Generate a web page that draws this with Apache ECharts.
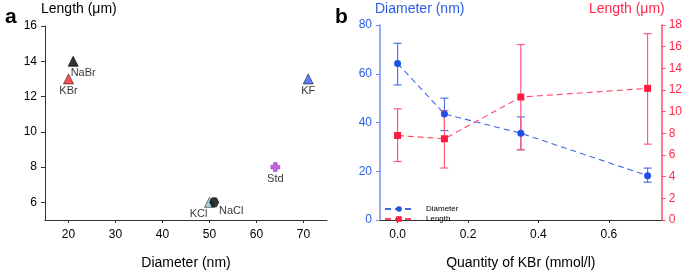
<!DOCTYPE html>
<html>
<head>
<meta charset="utf-8">
<script src="https://cdn.jsdelivr.net/npm/echarts@6/dist/echarts.min.js"></script>
<style>
html,body{margin:0;padding:0;background:#fff;}
#c{width:685px;height:275px;}
</style>
</head>
<body>
<div id="c"></div>
<script>
// ---- Panel a data ----
const saltNames = ['NaBr', 'KBr', 'KF', 'Std', 'KCl', 'NaCl'];
const saltDiameter = [21, 20, 71, 64, 50, 51];
const saltLength = [14, 13, 13, 8, 6, 6];
const aXTicks = [20, 30, 40, 50, 60, 70];
const aYTicks = [6, 8, 10, 12, 14, 16];

// ---- Panel b data ----
const kbr = [0, 0.133, 0.35, 0.71];
const diameter = [64.2, 43.5, 35.6, 18.2];
const diameterLow = [55.4, 36.7, 28.8, 15.5];
const diameterHigh = [72.5, 50.0, 42.3, 21.3];
const lengthB = [7.8, 7.5, 11.35, 12.15];
const lengthLow = [5.4, 4.8, 6.5, 7.0];
const lengthHigh = [10.26, 10.1, 16.2, 17.2];
const bXTicks = [0, 0.2, 0.4, 0.6];

const FONT = 'Liberation Sans, Arial, sans-serif';
const BLUE = '#1e50e6', BLUE_LINE = '#3f6ae6', BLUE_ERR = '#4d74e8', BLUE_AXIS = '#6a8cf0';
const RED = '#ff1a40', RED_LINE = '#ff4466', RED_ERR = '#ff5a7a', RED_AXIS = '#ff4d6d';

const saltStyles = {
  NaBr: {symbol: 'triangle', size: 10, color: '#000000', border: '#000', label: [10, -1]},
  KBr:  {symbol: 'triangle', size: 10, color: '#ff2020', border: '#222', label: [0, -1]},
  KF:   {symbol: 'triangle', size: 10, color: '#2f62ff', border: '#222', label: [0, -1]},
  Std:  {symbol: 'path://M3,0 L7,0 L7,3 L10,3 L10,7 L7,7 L7,10 L3,10 L3,7 L0,7 L0,3 L3,3 Z', size: 9, color: '#b13fd6', border: '#b13fd6', label: [0, -1]},
  KCl:  {symbol: 'triangle', size: 10, color: '#8fcbd3', border: '#333', label: [-11, -1]},
  NaCl: {symbol: 'path://M2.5,0 L7.5,0 L10,5 L7.5,10 L2.5,10 L0,5 Z', size: 9, color: '#000000', border: '#000', label: [17, -4]}
};

const scatterData = saltNames.map((n, i) => {
  const s = saltStyles[n];
  return {
    name: n,
    value: [saltDiameter[i], saltLength[i]],
    symbol: s.symbol,
    symbolSize: s.size,
    itemStyle: {color: s.color, borderColor: s.border, borderWidth: 0.8},
    label: {show: true, formatter: n, position: 'bottom', distance: 2, offset: s.label,
            color: '#000', fontSize: 11, fontFamily: FONT}
  };
});

function errSeries(name, yIdx, lows, highs, color) {
  return {
    type: 'custom', name: name + 'Err', xAxisIndex: 1, yAxisIndex: yIdx, z: 1,
    silent: true,
    data: kbr.map((x, i) => [x, lows[i], highs[i]]),
    encode: {x: 0, y: [1, 2]},
    renderItem: function (params, api) {
      const x = api.value(0), lo = api.value(1), hi = api.value(2);
      const pHi = api.coord([x, hi]), pLo = api.coord([x, lo]);
      const st = {stroke: color, lineWidth: 1.2};
      const w = 4;
      return {type: 'group', children: [
        {type: 'line', shape: {x1: pHi[0], y1: pHi[1], x2: pLo[0], y2: pLo[1]}, style: st},
        {type: 'line', shape: {x1: pHi[0] - w, y1: pHi[1], x2: pHi[0] + w, y2: pHi[1]}, style: st},
        {type: 'line', shape: {x1: pLo[0] - w, y1: pLo[1], x2: pLo[0] + w, y2: pLo[1]}, style: st}
      ]};
    }
  };
}

const axisText = {fontSize: 12, fontFamily: FONT};
const legendBase = {
  orient: 'vertical', left: 384, padding: 0,
  itemWidth: 28, itemHeight: 7, itemGap: 0,
  textStyle: {fontSize: 8, fontFamily: FONT, color: '#000', padding: [0, 0, 0, 8]}
};

const option = {
  animation: false,
  backgroundColor: '#fff',
  grid: [
    {left: 45, top: 26, width: 282, height: 202},
    {left: 380, top: 25, width: 282, height: 203}
  ],
  legend: [
    Object.assign({}, legendBase, {data: ['Diameter'], top: 205}),
    Object.assign({}, legendBase, {data: ['Length'], top: 215})
  ],
  xAxis: [
    {
      gridIndex: 0, type: 'value', min: 15, max: 75,
      axisLine: {show: true, lineStyle: {color: '#333', width: 1}},
      axisTick: {show: true, customValues: aXTicks, length: 3, lineStyle: {color: '#333'}},
      axisLabel: {customValues: aXTicks, color: '#000', margin: 9, ...axisText},
      splitLine: {show: false},
      name: 'Diameter (nm)', nameLocation: 'middle', nameGap: 36,
      nameTextStyle: {fontSize: 14, fontFamily: FONT, color: '#000'}
    },
    {
      gridIndex: 1, type: 'value', min: -0.05, max: 0.75,
      axisLine: {show: true, onZero: false, lineStyle: {color: '#333', width: 1}},
      axisTick: {show: true, customValues: bXTicks, length: 3, lineStyle: {color: '#333'}},
      axisLabel: {customValues: bXTicks, color: '#000', margin: 9, formatter: v => v.toFixed(1), ...axisText},
      splitLine: {show: false},
      name: 'Quantity of KBr (mmol/l)', nameLocation: 'middle', nameGap: 36,
      nameTextStyle: {fontSize: 14, fontFamily: FONT, color: '#000'}
    }
  ],
  yAxis: [
    {
      gridIndex: 0, type: 'value', min: 5, max: 16,
      axisLine: {show: true, lineStyle: {color: '#333', width: 1}},
      axisTick: {show: true, customValues: aYTicks, length: 4, lineStyle: {color: '#333'}},
      axisLabel: {customValues: aYTicks, color: '#000', margin: 8, ...axisText},
      splitLine: {show: false}
    },
    {
      gridIndex: 1, type: 'value', min: 0, max: 80, interval: 20, position: 'left',
      axisLine: {show: true, onZero: false, lineStyle: {color: BLUE_AXIS, width: 1.5}},
      axisTick: {show: true, length: 4, lineStyle: {color: BLUE_AXIS}},
      axisLabel: {color: '#2b5ce8', margin: 8, ...axisText},
      splitLine: {show: false}
    },
    {
      gridIndex: 1, type: 'value', min: 0, max: 18, interval: 2, position: 'right',
      axisLine: {show: true, onZero: false, lineStyle: {color: RED_AXIS, width: 1.5}},
      axisTick: {show: true, length: 4, lineStyle: {color: RED_AXIS}},
      axisLabel: {color: '#ff2a4a', margin: 7, ...axisText},
      splitLine: {show: false}
    }
  ],
  graphic: [
    {type: 'text', left: 5, top: 7, style: {text: 'a', font: 'bold 21px ' + FONT, fill: '#000'}},
    {type: 'text', left: 41, top: 2, style: {text: 'Length (μm)', font: '14px ' + FONT, fill: '#000'}},
    {type: 'text', left: 335, top: 7, style: {text: 'b', font: 'bold 21px ' + FONT, fill: '#000'}},
    {type: 'text', left: 375, top: 2, style: {text: 'Diameter (nm)', font: '14px ' + FONT, fill: '#2b5ce8'}},
    {type: 'text', left: 589, top: 2, style: {text: 'Length (μm)', font: '14px ' + FONT, fill: '#ff2a4a'}}
  ],
  series: [
    {
      type: 'scatter', name: 'salts', xAxisIndex: 0, yAxisIndex: 0,
      data: scatterData
    },
    errSeries('Diameter', 1, diameterLow, diameterHigh, BLUE_ERR),
    errSeries('Length', 2, lengthLow, lengthHigh, RED_ERR),
    {
      type: 'line', name: 'Diameter', xAxisIndex: 1, yAxisIndex: 1, z: 3,
      data: kbr.map((x, i) => [x, diameter[i]]),
      symbol: 'circle', symbolSize: 7,
      itemStyle: {color: BLUE},
      lineStyle: {color: BLUE_LINE, width: 1.1, type: [6, 4]}
    },
    {
      type: 'line', name: 'Length', xAxisIndex: 1, yAxisIndex: 2, z: 3,
      data: kbr.map((x, i) => [x, lengthB[i]]),
      symbol: 'rect', symbolSize: 7,
      itemStyle: {color: RED},
      lineStyle: {color: RED_LINE, width: 1.1, type: [6, 4]}
    }
  ]
};

const chart = echarts.init(document.getElementById('c'), null, {renderer: 'canvas'});
chart.setOption(option);
</script>
</body>
</html>
